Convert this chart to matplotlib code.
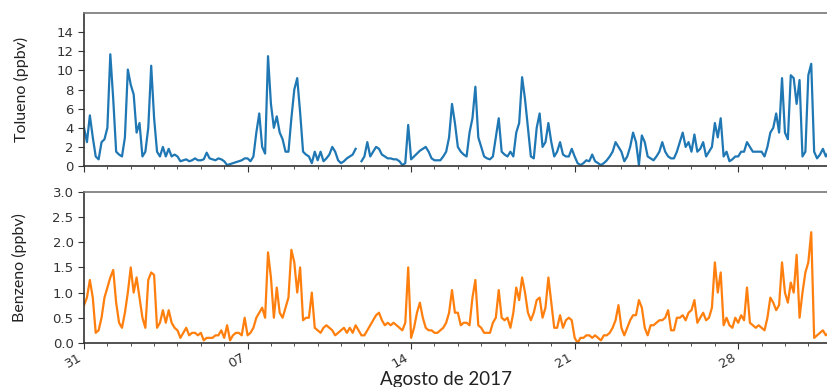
import numpy as np
import pandas as pd
import matplotlib
matplotlib.use("Agg")
import matplotlib.pyplot as plt
import matplotlib.dates as mdates

nan = np.nan
# 3-hourly values starting 2017-07-31 00:00 (8 values per day)
tolueno = [
    4.0, 2.5, 5.3, 3.0, 1.0, 0.7, 2.5, 2.8,
    4.0, 11.7, 7.0, 1.5, 1.2, 1.0, 3.0, 10.1,
    8.5, 7.5, 3.5, 4.5, 1.0, 1.5, 4.0, 10.5,
    5.0, 1.5, 1.0, 2.0, 1.0, 1.8, 1.0, 1.2,
    1.0, 0.5, 0.6, 0.7, 0.5, 0.6, 0.8, 0.6,
    0.6, 0.7, 1.4, 0.8, 0.7, 0.6, 0.8, 0.7,
    0.5, 0.1, 0.2, 0.3, 0.4, 0.5, 0.6, 0.8,
    0.8, 0.5, 1.0, 3.5, 5.5, 2.0, 1.3, 11.5,
    6.5, 4.0, 5.2, 3.5, 2.8, 1.5, 1.5, 5.0,
    8.0, 9.2, 5.6, 1.5, 1.2, 1.0, 0.3, 1.5,
    0.6, 1.5, 0.5, 0.8, 1.2, 2.0, 1.5, 0.6,
    0.3, 0.5, 0.8, 1.0, 1.2, 1.8, nan, 0.5,
    1.0, 2.5, 1.0, 1.5, 2.0, 1.8, 1.2, 1.0,
    0.8, 0.8, 0.7, 0.7, 0.5, 0.1, 0.3, 4.3,
    0.7, 1.0, 1.3, 1.6, 1.8, 2.0, 1.5, 0.8,
    0.6, 0.6, 0.6, 1.0, 1.5, 3.0, 6.5, 4.5,
    2.0, 1.5, 1.2, 1.0, 3.5, 5.0, 8.3, 3.0,
    2.0, 1.0, 0.8, 0.7, 1.0, 3.0, 5.0, 1.5,
    1.2, 1.0, 1.5, 1.0, 3.5, 4.5, 9.3, 7.0,
    4.0, 1.0, 0.8, 4.0, 5.5, 2.0, 2.5, 4.5,
    2.5, 1.0, 1.5, 2.5, 1.2, 1.0, 1.0, 1.8,
    1.0, 0.3, 0.1, 0.3, 0.6, 0.5, 1.2, 0.5,
    0.3, 0.1, 0.3, 0.6, 1.0, 1.5, 2.5, 2.0,
    1.5, 0.5, 1.0, 2.0, 3.5, 2.5, 0.1, 3.2,
    2.5, 1.0, 0.8, 0.6, 1.0, 1.5, 2.5, 1.5,
    1.0, 0.8, 0.8, 1.5, 2.5, 3.5, 2.0, 2.5,
    1.5, 3.3, 1.5, 1.8, 2.5, 1.0, 1.5, 2.0,
    4.5, 3.0, 5.0, 1.0, 1.5, 0.5, 0.7, 1.0,
    1.0, 1.5, 1.5, 2.5, 2.0, 1.5, 1.5, 1.5,
    1.5, 1.0, 2.0, 3.5, 4.0, 5.5, 3.5, 9.2,
    3.5, 2.8, 9.5, 9.2, 6.5, 9.0, 1.0, 1.5,
    9.5, 10.7, 1.5, 0.8, 1.2, 1.8, 1.0, 1.5,
]
benzeno = [
    0.75, 0.9, 1.25, 0.9, 0.2, 0.25, 0.5, 0.9,
    1.1, 1.3, 1.45, 0.8, 0.4, 0.3, 0.6, 1.0,
    1.5, 1.0, 1.3, 0.9, 0.5, 0.3, 1.25, 1.4,
    1.35, 0.3, 0.4, 0.65, 0.4, 0.65, 0.4, 0.3,
    0.25, 0.1, 0.2, 0.3, 0.15, 0.2, 0.2, 0.15,
    0.2, 0.05, 0.1, 0.1, 0.1, 0.15, 0.15, 0.25,
    0.1, 0.35, 0.05, 0.15, 0.2, 0.2, 0.15, 0.5,
    0.15, 0.2, 0.3, 0.5, 0.6, 0.7, 0.5, 1.8,
    1.3, 0.5, 1.1, 0.6, 0.5, 0.7, 0.9, 1.85,
    1.6, 1.0, 1.5, 0.45, 0.5, 0.5, 1.0, 0.3,
    0.25, 0.2, 0.3, 0.35, 0.3, 0.25, 0.15, 0.2,
    0.25, 0.3, 0.2, 0.3, 0.2, 0.35, 0.25, 0.15,
    0.15, 0.25, 0.35, 0.45, 0.55, 0.6, 0.45, 0.35,
    0.4, 0.35, 0.4, 0.35, 0.3, 0.25, 0.4, 1.5,
    0.1, 0.3, 0.6, 0.8, 0.5, 0.3, 0.25, 0.25,
    0.2, 0.2, 0.25, 0.3, 0.4, 0.6, 1.05, 0.6,
    0.6, 0.35, 0.4, 0.4, 0.35, 0.9, 1.25, 0.35,
    0.3, 0.2, 0.2, 0.2, 0.4, 0.5, 1.05, 0.5,
    0.45, 0.5, 0.3, 0.6, 1.1, 0.85, 1.3, 1.0,
    0.6, 0.45, 0.6, 0.85, 0.9, 0.5, 0.7, 1.3,
    0.8, 0.3, 0.3, 0.55, 0.3, 0.45, 0.5, 0.45,
    0.1, 0.0, 0.1, 0.1, 0.15, 0.15, 0.1, 0.15,
    0.1, 0.05, 0.15, 0.15, 0.2, 0.3, 0.45, 0.75,
    0.3, 0.15, 0.3, 0.45, 0.55, 0.55, 0.85, 0.7,
    0.3, 0.15, 0.35, 0.35, 0.4, 0.45, 0.45, 0.5,
    0.65, 0.25, 0.25, 0.5, 0.5, 0.55, 0.45, 0.6,
    0.65, 0.85, 0.4, 0.5, 0.6, 0.45, 0.5, 0.7,
    1.6, 1.0, 1.4, 0.35, 0.5, 0.35, 0.3, 0.5,
    0.4, 0.55, 0.45, 1.1, 0.4, 0.35, 0.3, 0.35,
    0.3, 0.25, 0.5, 0.9, 0.8, 0.65, 0.75, 1.6,
    1.0, 0.8, 1.2, 1.0, 1.75, 0.5, 1.0, 1.4,
    1.6, 2.2, 0.1, 0.15, 0.2, 0.25, 0.15, 0.2,
]
times = pd.date_range("2017-07-31 00:00", periods=len(tolueno), freq="3h")
major_dates = pd.to_datetime(["2017-07-31", "2017-08-07", "2017-08-14", "2017-08-21", "2017-08-28"])
tol_ticks = [0, 2, 4, 6, 8, 10, 12, 14]
ben_ticks = [0.0, 0.5, 1.0, 1.5, 2.0, 2.5, 3.0]
x_label = "Agosto de 2017"
y_label_top = "Tolueno (ppbv)"
y_label_bottom = "Benzeno (ppbv)"

fig = plt.figure(figsize=(8.27, 3.87), dpi=100)
ax1 = fig.add_axes([0.1016, 0.571, 0.8984, 0.395])
ax2 = fig.add_axes([0.1016, 0.114, 0.8984, 0.390], sharex=ax1)

ax1.plot(times, tolueno, color="#1f77b4", lw=1.6)
ax2.plot(times, benzeno, color="#ff7f0e", lw=1.6)

x0 = pd.Timestamp("2017-07-31 00:00")
ax1.set_xlim(x0, x0 + pd.Timedelta(hours=31.8 * 24))
ax1.set_ylim(0, 16)
ax2.set_ylim(0, 3.0)
ax1.set_yticks(tol_ticks)
ax2.set_yticks(ben_ticks)
ax2.yaxis.set_major_formatter(matplotlib.ticker.FormatStrFormatter("%.1f"))

for ax in (ax1, ax2):
    ax.xaxis.set_major_locator(matplotlib.ticker.FixedLocator(mdates.date2num(major_dates)))
    ax.xaxis.set_minor_locator(mdates.DayLocator())
    ax.xaxis.set_major_formatter(mdates.DateFormatter("%d"))
    ax.spines["right"].set_visible(False)
    for s in ("top", "left", "bottom"):
        ax.spines[s].set_linewidth(1.2)
    ax.spines["top"].set_color("#777777")
    ax.spines["left"].set_color("#333333")
    ax.spines["bottom"].set_color("#333333")
    ax.tick_params(axis="both", which="major", labelsize=9.5, length=4, colors="#333333")
    ax.tick_params(axis="x", which="minor", length=2.5, colors="#333333")

ax2.tick_params(axis="x", which="major", pad=1.5)
plt.setp(ax1.get_xticklabels(), visible=False)
for lab in ax2.get_xticklabels():
    lab.set_rotation(30)
    lab.set_ha("right")

lblfont = dict(family=["Lato", "DejaVu Sans"], fontsize=11.5, color="#222222")
ax1.set_ylabel(y_label_top, **lblfont)
ax2.set_ylabel(y_label_bottom, **lblfont)
ax1.yaxis.set_label_coords(-0.074, 0.5)
ax2.yaxis.set_label_coords(-0.077, 0.5)
ax2.set_xlabel(x_label, family=["Lato", "DejaVu Sans"], fontsize=13.5, color="#222222")
ax2.xaxis.set_label_coords(0.487, -0.185)
ax2.xaxis.label.set_va("top")

fig.savefig("out.png", dpi=100)
